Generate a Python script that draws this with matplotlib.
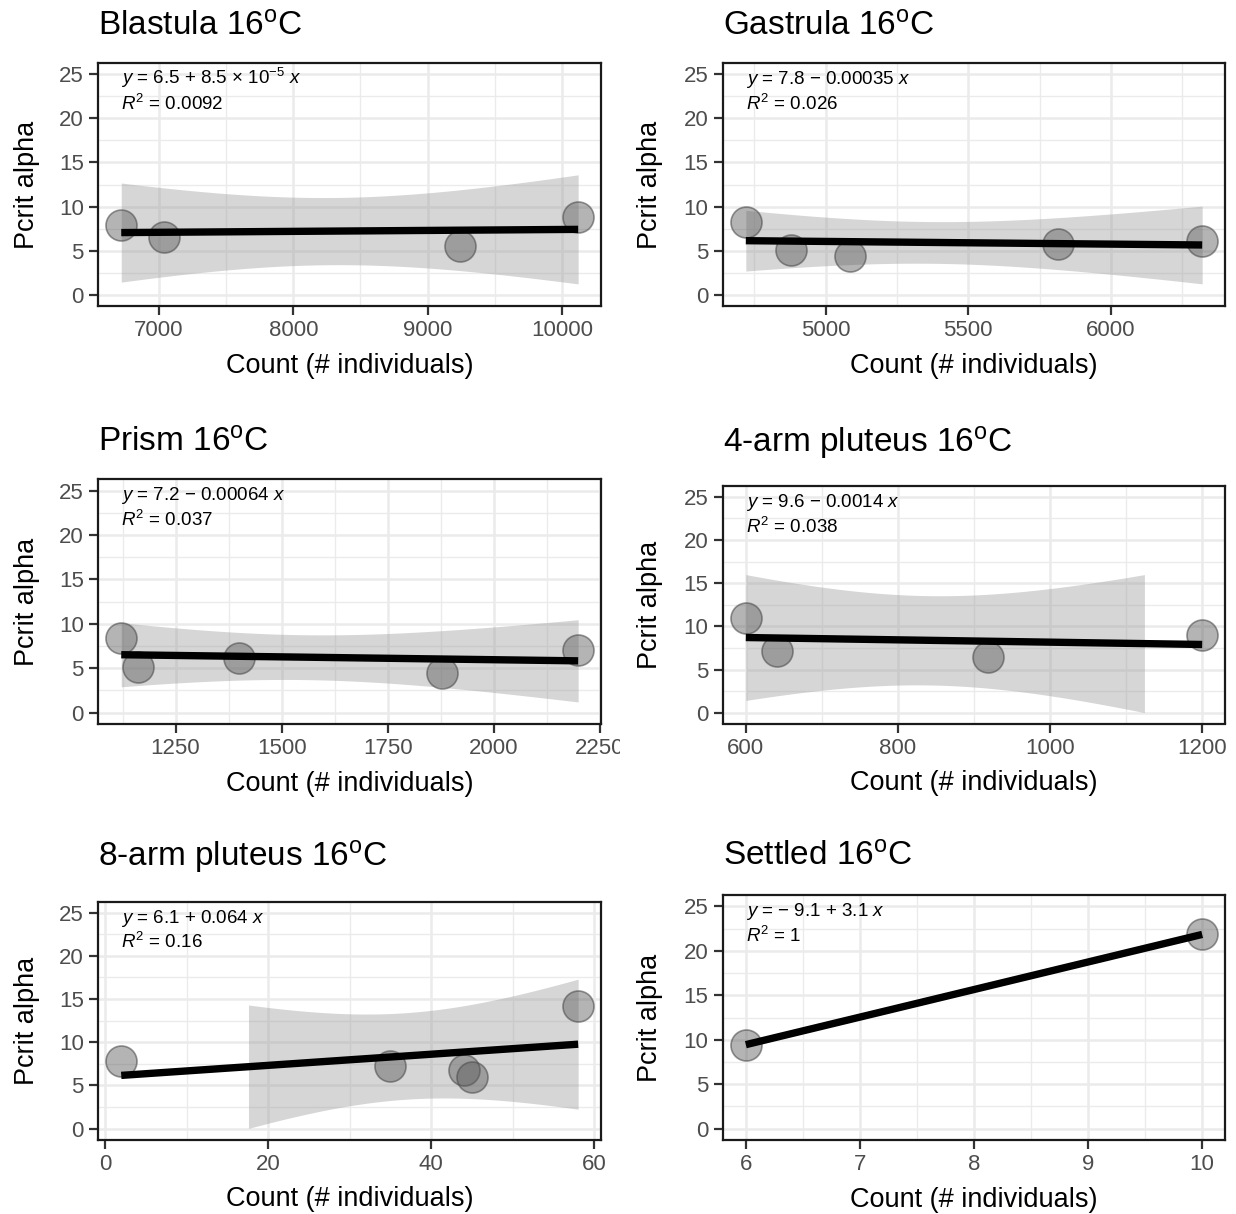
import numpy as np
import matplotlib
matplotlib.use("Agg")
from matplotlib import pyplot as plt
from matplotlib.ticker import MultipleLocator
from matplotlib.transforms import Bbox

plt.rcParams['font.family'] = 'Liberation Sans'
plt.rcParams['mathtext.fontset'] = 'custom'
plt.rcParams['mathtext.rm'] = 'Liberation Sans'
plt.rcParams['mathtext.it'] = 'Liberation Sans:italic'

#Data (count, Pcrit alpha)
titles = ["Blastula", "Gastrula", "Prism", "4-arm pluteus", "8-arm pluteus", "Settled"]

blastula_count = [6720, 7040, 9240, 10120]
blastula_pcrit = [7.95, 6.6, 5.5, 8.8]
gastrula_count = [4720, 4880, 5085, 5815, 6320]
gastrula_pcrit = [8.25, 5.1, 4.4, 5.8, 6.1]
prism_count = [1122, 1162, 1400, 1877, 2199]
prism_pcrit = [8.45, 5.1, 6.15, 4.5, 7.0]
arm4_count = [600, 641, 918, 1200]
arm4_pcrit = [10.95, 7.15, 6.5, 8.95]
arm8_count = [2, 35, 44, 45, 58]
arm8_pcrit = [7.8, 7.3, 6.75, 5.95, 14.25]
settled_count = [6, 10]
settled_pcrit = [9.45, 21.85]

eq_labels = ["$y$ = 6.5 + 8.5 \u00d7 10$^{-5}$ $x$",
             "$y$ = 7.8 \u2212 0.00035 $x$",
             "$y$ = 7.2 \u2212 0.00064 $x$",
             "$y$ = 9.6 \u2212 0.0014 $x$",
             "$y$ = 6.1 + 0.064 $x$",
             "$y$ = \u2212 9.1 + 3.1 $x$"]
r2_labels = ["0.0092", "0.026", "0.037", "0.038", "0.16", "1"]

x_major = [1000, 500, 250, 200, 20, 1]

counts = [blastula_count, gastrula_count, prism_count, arm4_count, arm8_count, settled_count]
pcrits = [blastula_pcrit, gastrula_pcrit, prism_pcrit, arm4_pcrit, arm8_pcrit, settled_pcrit]

#t quantiles (0.975) by degrees of freedom
t975 = {1: 12.706, 2: 4.303, 3: 3.182, 4: 2.776}

#Layout in pixels: left, top, right, bottom
W, H = 1236, 1214
boxes = [(98.4, 63.3, 601, 305.7),
         (723, 63.3, 1225, 305.7),
         (98.4, 479.4, 601, 723.7),
         (723, 486.1, 1225, 723.5),
         (98.4, 901.8, 601, 1139.5),
         (723, 895.3, 1225, 1139.8)]
title_base = [36, 36, 452, 452, 866, 866]
ylab_x = [27, 650]


def lm_band(x, y, grid):
    x = np.asarray(x, float)
    y = np.asarray(y, float)
    n = len(x)
    b, a = np.polyfit(x, y, 1)
    fit = a + b * grid
    if n < 3:
        return fit, None, None
    resid = y - (a + b * x)
    s = np.sqrt(np.sum(resid ** 2) / (n - 2))
    se = s * np.sqrt(1.0 / n + (grid - x.mean()) ** 2 / np.sum((x - x.mean()) ** 2))
    return fit, fit - t975[n - 2] * se, fit + t975[n - 2] * se


fig = plt.figure(figsize=(W / 100, H / 100), dpi=100)

for i in range(6):
    l, t, r, b = boxes[i]
    ax = fig.add_axes([l / W, 1 - b / H, (r - l) / W, (b - t) / H])
    x = np.asarray(counts[i], float)
    y = np.asarray(pcrits[i], float)
    xr = x.max() - x.min()

    grid = np.linspace(x.min(), x.max(), 80)
    fit, lo, hi = lm_band(x, y, grid)
    if lo is not None:
        #out of the 0-25 limits the ribbon is dropped
        ok = (lo >= 0) & (hi <= 25)
        ax.fill_between(grid, lo, hi, where=ok, color='#999999', alpha=0.4, lw=0, zorder=1.5)
    ax.plot(x, y, 'o', ms=22.3, mfc=(0.35, 0.35, 0.35, 0.45), mec=(0.3, 0.3, 0.3, 0.6), mew=1.2, zorder=2)
    ax.plot(grid, fit, color='black', lw=5.3, solid_capstyle='butt', zorder=3)

    ax.set_xlim(x.min() - 0.05 * xr, x.max() + 0.05 * xr)
    ax.set_ylim(-1.25, 26.25)
    ax.xaxis.set_major_locator(MultipleLocator(x_major[i]))
    ax.xaxis.set_minor_locator(MultipleLocator(x_major[i] / 2))
    ax.yaxis.set_major_locator(MultipleLocator(5))
    ax.yaxis.set_minor_locator(MultipleLocator(2.5))
    ax.set_axisbelow(True)
    ax.grid(which='major', color='#ebebeb', lw=1.8)
    ax.grid(which='minor', color='#ebebeb', lw=1.0)
    for sp in ax.spines.values():
        sp.set_color('#1a1a1a')
        sp.set_linewidth(1.6)
    ax.tick_params(which='major', length=6.5, width=1.6, color='#333333', labelsize=16,
                   labelcolor='#4d4d4d', pad=4)
    ax.tick_params(which='minor', length=0)

    ph = b - t
    pw = r - l
    ax.text(22.6 / pw, 1 - 21 / ph, eq_labels[i], transform=ax.transAxes, fontsize=13.5, va='baseline')
    ax.text(22.6 / pw, 1 - 46.5 / ph, "$R^2$ = " + r2_labels[i], transform=ax.transAxes,
            fontsize=13.5, va='baseline')

    ax.set_xlabel("Count (# individuals)", fontsize=19.5, color='black')
    ax.xaxis.set_label_coords(0.5, -67 / ph)
    ax.xaxis.label.set_va('baseline')
    ax.set_ylabel("Pcrit alpha", fontsize=19.5, color='black')
    ax.yaxis.set_label_coords(-(l - ylab_x[i % 2]) / pw, 0.5)
    ax.yaxis.label.set_va('center')

    fig.text(l / W, 1 - title_base[i] / H, titles[i] + " 16$^{\\mathregular{o}}$C",
             fontsize=24, va='baseline', ha='left')

    if i == 2:
        #the last tick label is cut at the panel edge in the original
        fig.canvas.draw()
        clip = Bbox.from_extents(0, 0, 620, H)
        for lab in ax.get_xticklabels():
            lab.set_clip_box(clip)
            lab.set_clip_on(True)

fig.savefig("out.png", dpi=100)
